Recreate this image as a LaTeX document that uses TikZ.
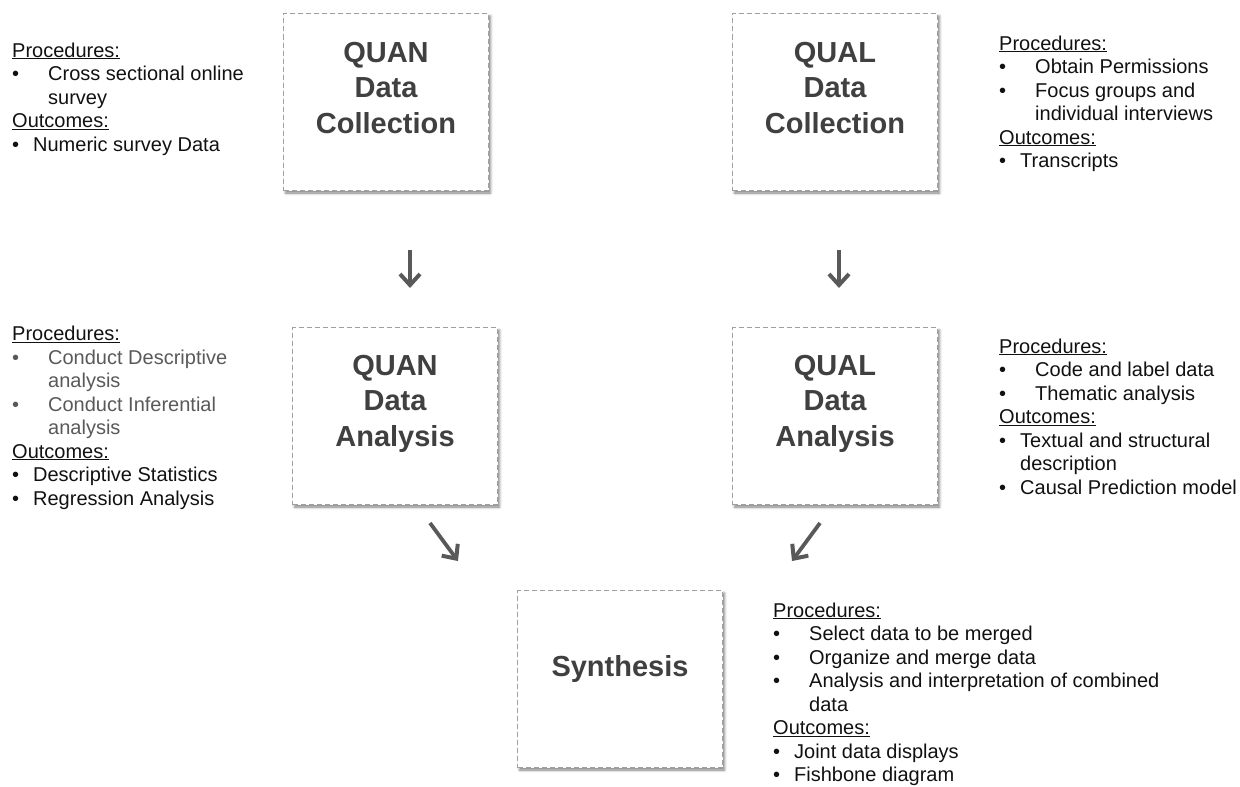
\documentclass[tikz,border=0pt]{standalone}
\usepackage{fontspec}
\setmainfont{Liberation Sans}
\usetikzlibrary{arrows.meta,shadows.blur}

\definecolor{boxline}{HTML}{A0A0A0}
\definecolor{boxtext}{HTML}{404040}
\definecolor{arrowgray}{HTML}{595959}
\definecolor{itemgray}{HTML}{595959}
\definecolor{notetext}{HTML}{111111}

% list helpers: headings, procedure items (wide indent), outcome items (narrow indent)
\newcommand{\hdline}[1]{\underline{#1}}
\newcommand{\pitem}[1]{\makebox[36pt][l]{\textbullet}#1}
\newcommand{\pcont}[1]{\hspace*{36pt}#1}
\newcommand{\oitem}[1]{\makebox[21pt][l]{\textbullet}#1}
\newcommand{\ocont}[1]{\hspace*{21pt}#1}

\tikzset{
  stagebox/.style={draw=boxline, line width=1pt, dash pattern=on 5pt off 3pt,
    fill=white, minimum width=205pt, minimum height=177pt, inner sep=0pt,
    anchor=north west,
    blur shadow={shadow xshift=2pt, shadow yshift=-2.5pt,
      shadow blur radius=2.5pt, shadow opacity=50}},
  stagetitle/.style={anchor=base, inner sep=0pt, text=boxtext,
    font=\fontsize{29}{35.5}\selectfont\bfseries},
  notes/.style={anchor=base west, inner sep=0pt, text=notetext,
    font=\fontsize{20}{23.5}\selectfont},
  flow/.style={draw=arrowgray, line width=3.8pt,
    -{Straight Barb[length=11pt,width=20pt,line width=4pt]}},
}

\begin{document}
\begin{tikzpicture}[x=1pt,y=-1pt]
\useasboundingbox (0,0) rectangle (1240,787);

% stage boxes
\node[stagebox] (qndc) at (283,13) {};
\node[stagebox] (qldc) at (732,13) {};
\node[stagebox] (qnda) at (292,327) {};
\node[stagebox] (qlda) at (732,327) {};
\node[stagebox] (syn)  at (517,590) {};

% stage titles
\node[stagetitle] (tqndc) at ([yshift=-49pt]qndc.north)
  {\begin{tabular}[t]{@{}c@{}}QUAN\\Data\\Collection\end{tabular}};
\node[stagetitle] (tqldc) at ([yshift=-49pt]qldc.north)
  {\begin{tabular}[t]{@{}c@{}}QUAL\\Data\\Collection\end{tabular}};
\node[stagetitle] (tqnda) at ([yshift=-48pt]qnda.north)
  {\begin{tabular}[t]{@{}c@{}}QUAN\\Data\\Analysis\end{tabular}};
\node[stagetitle] (tqlda) at ([yshift=-48pt]qlda.north)
  {\begin{tabular}[t]{@{}c@{}}QUAL\\Data\\Analysis\end{tabular}};
\node[stagetitle] (tsyn) at ([yshift=-86pt]syn.north) {Synthesis};

% notes beside each stage
\node[notes] (nqndc) at (12,57) {\parbox[t]{260pt}{%
  \hdline{Procedures:}\\
  \pitem{Cross sectional online}\\
  \pcont{survey}\\
  \hdline{Outcomes:}\\
  \oitem{Numeric survey Data}}};

\node[notes] (nqnda) at (12,340.5) {\parbox[t]{260pt}{%
  \hdline{Procedures:}\\
  {\color{itemgray}\pitem{Conduct Descriptive}}\\
  {\color{itemgray}\pcont{analysis}}\\
  {\color{itemgray}\pitem{Conduct Inferential}}\\
  {\color{itemgray}\pcont{analysis}}\\
  \hdline{Outcomes:}\\
  \oitem{Descriptive Statistics}\\
  \oitem{Regression Analysis}}};

\node[notes] (nqldc) at (999,50) {\parbox[t]{240pt}{%
  \hdline{Procedures:}\\
  \pitem{Obtain Permissions}\\
  \pitem{Focus groups and}\\
  \pcont{individual interviews}\\
  \hdline{Outcomes:}\\
  \oitem{Transcripts}}};

\node[notes] (nqlda) at (999,353) {\parbox[t]{240pt}{%
  \hdline{Procedures:}\\
  \pitem{Code and label data}\\
  \pitem{Thematic analysis}\\
  \hdline{Outcomes:}\\
  \oitem{Textual and structural}\\
  \ocont{description}\\
  \oitem{Causal Prediction model}}};

\node[notes] (nsyn) at (773,617) {\parbox[t]{420pt}{%
  \hdline{Procedures:}\\
  \pitem{Select data to be merged}\\
  \pitem{Organize and merge data}\\
  \pitem{Analysis and interpretation of combined}\\
  \pcont{data}\\
  \hdline{Outcomes:}\\
  \oitem{Joint data displays}\\
  \oitem{Fishbone diagram}}};

% arrow ends between the stages
\coordinate (a1s) at (410,250);
\coordinate (a1e) at (410,288);
\coordinate (a2s) at (839,250);
\coordinate (a2e) at (839,288);
\coordinate (a3s) at (430,523);
\coordinate (a3e) at (458,561);
\coordinate (a4s) at (820,523);
\coordinate (a4e) at (792,561);

\draw[flow] (a1s) -- (a1e);
\draw[flow] (a2s) -- (a2e);
\draw[flow] (a3s) -- (a3e);
\draw[flow] (a4s) -- (a4e);
\end{tikzpicture}
\end{document}
